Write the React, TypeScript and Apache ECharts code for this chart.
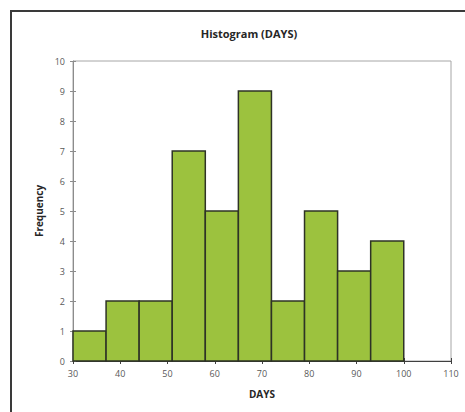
import React, { useEffect, useRef } from "react";
import * as echarts from "echarts";

const binEdges = [30, 37, 44, 51, 58, 65, 72, 79, 86, 93, 100];
const frequencies = [1, 2, 2, 7, 5, 9, 2, 5, 3, 4];
const xTicks = [30, 40, 50, 60, 70, 80, 90, 100, 110];
const yTicks = [0, 1, 2, 3, 4, 5, 6, 7, 8, 9, 10];
const titleText = "Histogram (DAYS)";
const xName = "DAYS";
const yName = "Frequency";

const FONT = "'Open Sans', 'Noto Sans', sans-serif";

export default function App() {
  const ref = useRef<HTMLDivElement>(null);
  useEffect(() => {
    if (!ref.current) return;
    const chart = echarts.init(ref.current, undefined, { renderer: "svg" });
    const data = frequencies.map((f, i) => [binEdges[i], binEdges[i + 1], f]);
    const labelStyle = { color: "#595959", fontSize: 9, fontFamily: FONT };
    chart.setOption({
      animation: false,
      backgroundColor: "#ffffff",
      title: {
        text: titleText,
        left: 244,
        top: 23,
        textAlign: "center",
        textStyle: { fontFamily: FONT, fontSize: 11, fontWeight: "bold", color: "#262626" },
      },
      grid: { left: 73, right: 14, top: 61, bottom: 51, show: true, borderColor: "#a6a6a6", borderWidth: 1 },
      xAxis: [
        {
          type: "value",
          min: xTicks[0],
          max: xTicks[xTicks.length - 1],
          interval: 10,
          name: xName,
          nameLocation: "middle",
          nameGap: 28,
          nameTextStyle: { fontFamily: FONT, fontSize: 10, fontWeight: "bold", color: "#262626" },
          axisLine: { show: true, lineStyle: { color: "#404040", width: 1 } },
          axisTick: { show: true, length: 3, lineStyle: { color: "#404040" } },
          axisLabel: { ...labelStyle, margin: 8 },
          splitLine: { show: false },
        },
        {
          type: "value",
          position: "bottom",
          min: xTicks[0],
          max: xTicks[xTicks.length - 1],
          interval: 10,
          axisLine: { show: false },
          axisTick: { show: true, inside: true, length: 3, lineStyle: { color: "#404040" } },
          axisLabel: { show: false },
          splitLine: { show: false },
        },
      ],
      yAxis: [
        {
          type: "value",
          min: yTicks[0],
          max: yTicks[yTicks.length - 1],
          interval: 1,
          name: yName,
          nameLocation: "middle",
          nameGap: 29,
          nameTextStyle: { fontFamily: FONT, fontSize: 10, fontWeight: "bold", color: "#262626" },
          axisLine: { show: true, lineStyle: { color: "#8c8c8c", width: 1 } },
          axisTick: { show: true, length: 3, lineStyle: { color: "#8c8c8c" } },
          axisLabel: { ...labelStyle, margin: 8 },
          splitLine: { show: false },
        },
        {
          type: "value",
          position: "left",
          min: yTicks[0],
          max: yTicks[yTicks.length - 1],
          interval: 1,
          axisLine: { show: false },
          axisTick: { show: true, inside: true, length: 3, lineStyle: { color: "#8c8c8c" } },
          axisLabel: { show: false },
          splitLine: { show: false },
        },
      ],
      graphic: [
        {
          type: "line",
          shape: { x1: 11, y1: 11, x2: 465, y2: 11 },
          style: { stroke: "#3a3a3a", lineWidth: 2 },
          z: 100,
        },
        {
          type: "line",
          shape: { x1: 11, y1: 10, x2: 11, y2: 412 },
          style: { stroke: "#3a3a3a", lineWidth: 2 },
          z: 100,
        },
      ],
      series: [
        {
          type: "custom",
          xAxisIndex: 0,
          yAxisIndex: 0,
          data,
          renderItem: (params: any, api: any) => {
            const start = api.coord([api.value(0), 0]);
            const end = api.coord([api.value(1), api.value(2)]);
            return {
              type: "rect",
              shape: { x: start[0], y: end[1], width: end[0] - start[0], height: start[1] - end[1] },
              style: { fill: "#9cc23e", stroke: "#2e3326", lineWidth: 1.5 },
            };
          },
        },
      ],
    });
    return () => chart.dispose();
  }, []);
  return <div ref={ref} style={{ width: 465, height: 412, position: "absolute", left: 0, top: 0 }} />;
}
